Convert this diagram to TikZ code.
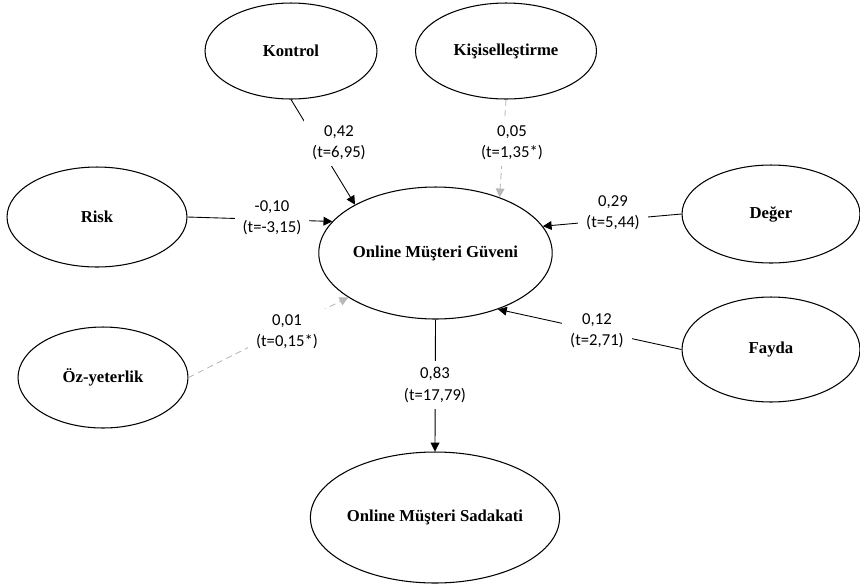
\documentclass[tikz,border=0pt]{standalone}
\usepackage{fontspec}
\setmainfont{Liberation Serif}
\newfontfamily\calibri{Carlito}
\usetikzlibrary{shapes.geometric, arrows.meta}

\begin{document}
\begin{tikzpicture}[x = 0.02cm, y = -0.02cm,
        Node/.style = {ellipse, draw = black, line width = 0.6pt, inner sep = 0pt, font = \fontsize{9.5}{11}\selectfont\bfseries},
        Coef/.style = {fill = white, align = center, inner xsep = 0.16cm, inner ysep = 0.12cm, font = \calibri\fontsize{9.5}{12.2}\selectfont},
        Path/.style = {draw = black, line width = 0.5pt, -{Triangle[length = 5pt, width = 5pt]}},
        Weak/.style = {Path, draw = black!28, dash pattern = on 3.5pt off 2.5pt}]
        \useasboundingbox (0,0) rectangle (860,586);
        % latent variables
        \node [Node, minimum width = 3.44cm, minimum height = 1.92cm] (1) at (291,51) {Kontrol};
        \node [Node, minimum width = 3.62cm, minimum height = 1.92cm] (2) at (506,51) {Kişiselleştirme};
        \node [Node, minimum width = 3.6cm, minimum height = 2cm] (3) at (97,217) {Risk};
        \node [Node, minimum width = 4.46cm, minimum height = 2.64cm] (4) at (435.5,253) {Online Müşteri Güveni};
        \node [Node, minimum width = 3.56cm, minimum height = 1.96cm] (5) at (771,214) {Değer};
        \node [Node, minimum width = 3.4cm, minimum height = 2.02cm] (6) at (103,377.5) {Öz-yeterlik};
        \node [Node, minimum width = 3.56cm, minimum height = 2.1cm] (7) at (771,349.5) {Fayda};
        \node [Node, minimum width = 4.48cm, minimum height = 2.62cm] (8) at (435,517.5) {Online Müşteri Sadakati};
        % paths
        \draw [Path] (1.south) -- (4.149.8);
        \draw [Weak] (2.south) -- (4.41.4);
        \draw [Path] (3.east) -- (4.163.8);
        \draw [Path] (5.west) -- (4.14.8);
        \draw [Weak] (6.east) -- (4.207.2);
        \draw [Path] (7.west) -- (4.318.1);
        \draw [Path] (4.south) -- (8.north);
        % coefficients
        \node [Coef] (9) at (339,143) {0,42\\(t=6,95)};
        \node [Coef] (10) at (512,143) {0,05\\(t=1,35*)};
        \node [Coef] (11) at (272,218) {-0,10\\(t=-3,15)};
        \node [Coef] (12) at (613,213) {0,29\\(t=5,44)};
        \node [Coef] (13) at (287,332) {0,01\\(t=0,15*)};
        \node [Coef] (14) at (597,331) {0,12\\(t=2,71)};
        \node [Coef] (15) at (435,385) {0,83\\(t=17,79)};
    \end{tikzpicture}
\end{document}
